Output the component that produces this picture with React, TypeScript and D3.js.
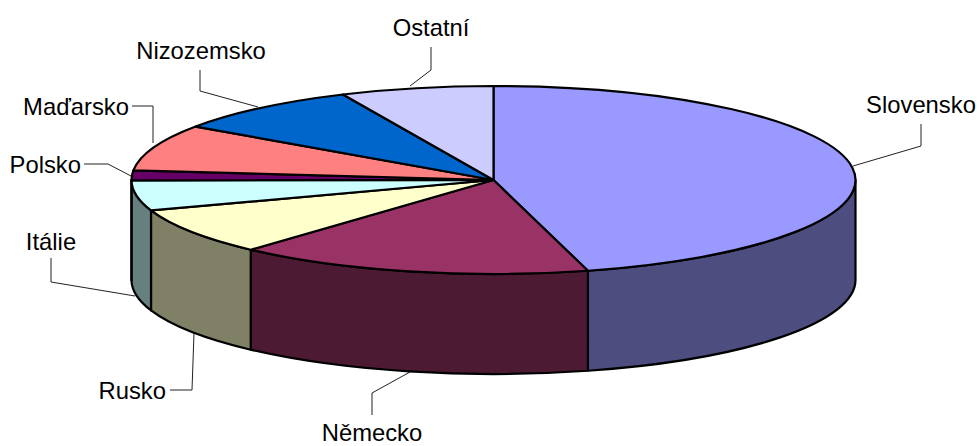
import React from "react";
import * as d3 from "d3";

const categories = ["Slovensko", "Německo", "Rusko", "Itálie", "Polsko", "Maďarsko", "Nizozemsko", "Ostatní"];
const shares = [45.8, 15.9, 8.05, 5.2, 1.67, 8.0, 8.55, 6.83];
const topColors = ["#9999FF", "#993366", "#FFFFCC", "#CCFFFF", "#660066", "#FF8080", "#0066CC", "#CCCCFF"];
const sideColors = ["#4D4D80", "#4D1A33", "#808066", "#668080", "#330033", "#804040", "#003366", "#666680"];

const W = 980, H = 446;
const CX = 493.5, CY = 180, RX = 362, RY = 94, DEPTH = 100;

// Leader polylines and label anchors (layout only)
const leaders: [number, number][][] = [
  [[853, 166], [921, 146], [921, 124]],
  [[410, 372], [372, 393], [372, 415]],
  [[194, 333], [192, 390], [170, 390]],
  [[135, 296], [51, 282], [51, 258]],
  [[131, 176], [108, 164], [84, 164]],
  [[153, 143], [153, 106], [132, 106]],
  [[258, 107], [200, 91], [200, 70]],
  [[410, 86], [431, 70], [431, 47]],
];
const labelPos: { x: number; y: number; a: string }[] = [
  { x: 921, y: 113, a: "middle" },
  { x: 372, y: 441, a: "middle" },
  { x: 166, y: 399, a: "end" },
  { x: 51, y: 250, a: "middle" },
  { x: 81, y: 173, a: "end" },
  { x: 129, y: 115, a: "end" },
  { x: 201, y: 59, a: "middle" },
  { x: 431, y: 36, a: "middle" },
];

const pie = d3.pie<number>().sort(null).startAngle(0).endAngle(2 * Math.PI);
const arcs = pie(shares);
const arcGen = d3.arc<d3.PieArcDatum<number>>().innerRadius(0).outerRadius(RX);

const px = (t: number) => CX + RX * Math.sin(t);
const py = (t: number) => CY - RY * Math.cos(t);

function sidePath(a0: number, a1: number) {
  const s = Math.max(a0, Math.PI / 2);
  const e = Math.min(a1, (3 * Math.PI) / 2);
  if (e <= s) return null;
  return (
    `M${px(s)},${py(s)} A${RX},${RY} 0 0 1 ${px(e)},${py(e)} ` +
    `L${px(e)},${py(e) + DEPTH} A${RX},${RY} 0 0 0 ${px(s)},${py(s) + DEPTH} Z`
  );
}

const line = d3.line();
const STROKE = 2.2;

export default function App() {
  return (
    <svg
      width={W}
      height={H}
      viewBox={`0 0 ${W} ${H}`}
      style={{ position: "absolute", left: 0, top: 0, background: "#fff" }}
    >
      <g>
        {leaders.map((pts, i) => (
          <path key={i} d={line(pts) as string} fill="none" stroke="#222" strokeWidth={1} />
        ))}
      </g>
      <g strokeLinejoin="round">
        {arcs.map((a, i) => {
          const d = sidePath(a.startAngle, a.endAngle);
          return d ? <path key={i} d={d} fill={sideColors[i]} stroke="#000" strokeWidth={STROKE} /> : null;
        })}
      </g>
      <g transform={`translate(${CX},${CY}) scale(1,${RY / RX})`} strokeLinejoin="round">
        {arcs.map((a, i) => (
          <path
            key={i}
            d={arcGen(a) as string}
            fill={topColors[i]}
            stroke="#000"
            strokeWidth={STROKE}
            style={{ vectorEffect: "non-scaling-stroke" }}
          />
        ))}
      </g>
      <g fontFamily="'Liberation Sans', Arial, sans-serif" fontSize={23.8} fill="#000">
        {categories.map((c, i) => (
          <text key={c} x={labelPos[i].x} y={labelPos[i].y} textAnchor={labelPos[i].a}>
            {c}
          </text>
        ))}
      </g>
    </svg>
  );
}
